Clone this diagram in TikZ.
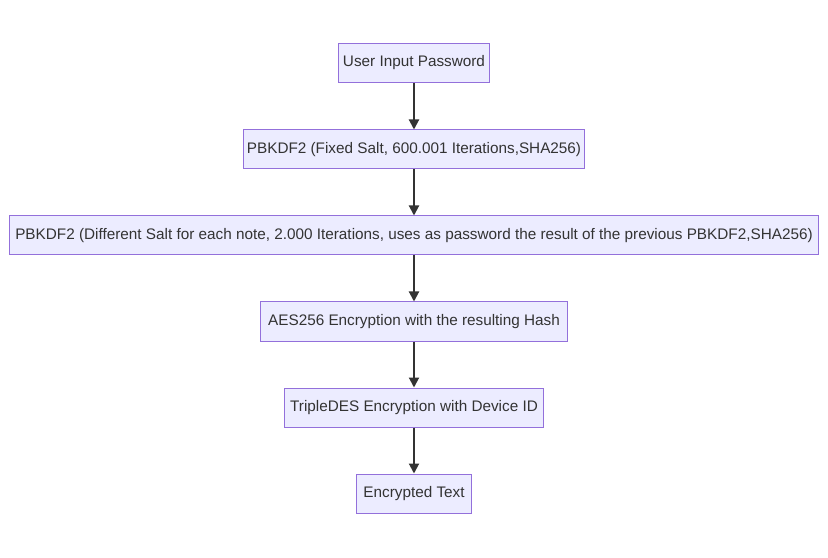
\documentclass[tikz,border=0pt]{standalone}
\usepackage{fontspec}
\setmainfont{Liberation Sans}
\usetikzlibrary{arrows.meta,positioning,calc}
\definecolor{boxfill}{HTML}{ECECFF}
\definecolor{boxline}{HTML}{9370DB}
\definecolor{ink}{HTML}{333333}
\tikzset{stepbox/.style={draw=boxline,fill=boxfill,line width=1bp,text=ink,
    minimum height=39bp,inner xsep=0pt,font=\fontsize{15.3bp}{17bp}\selectfont},
  flow/.style={draw=ink,line width=2bp,-{Triangle[length=10bp,width=10bp]}}}
\begin{document}
\begin{tikzpicture}[x=1bp,y=1bp]
        \useasboundingbox (0,0) rectangle (828,-558);

        \node [stepbox,minimum width=152] (user_in) at(414,-63) {User Input Password};
        \node [stepbox,minimum width=342] (pbkdf_fix) at($(user_in)+(0,-86.5)$) {PBKDF2 (Fixed Salt, 600.001 Iterations,SHA256)};
        \node [stepbox,minimum width=813] (pbkdf_note) at($(pbkdf_fix)+(0,-86)$) {PBKDF2 (Different Salt for each note, 2.000 Iterations, uses as password the result of the previous PBKDF2,SHA256)};
        \node [stepbox,minimum width=308] (aes_enc) at($(pbkdf_note)+(0,-86)$) {AES256 Encryption with the resulting Hash};
        \node [stepbox,minimum width=260] (des_enc) at($(aes_enc)+(0,-86)$) {TripleDES Encryption with Device ID};
        \node [stepbox,minimum width=116] (enc_text) at($(des_enc)+(0,-86)$) {Encrypted Text};

        % arrows between steps
        \foreach \a/\b in {user_in/pbkdf_fix,pbkdf_fix/pbkdf_note,pbkdf_note/aes_enc,aes_enc/des_enc,des_enc/enc_text} {
          \draw [flow] (\a) -- (\b);
        }
\end{tikzpicture}
\end{document}
